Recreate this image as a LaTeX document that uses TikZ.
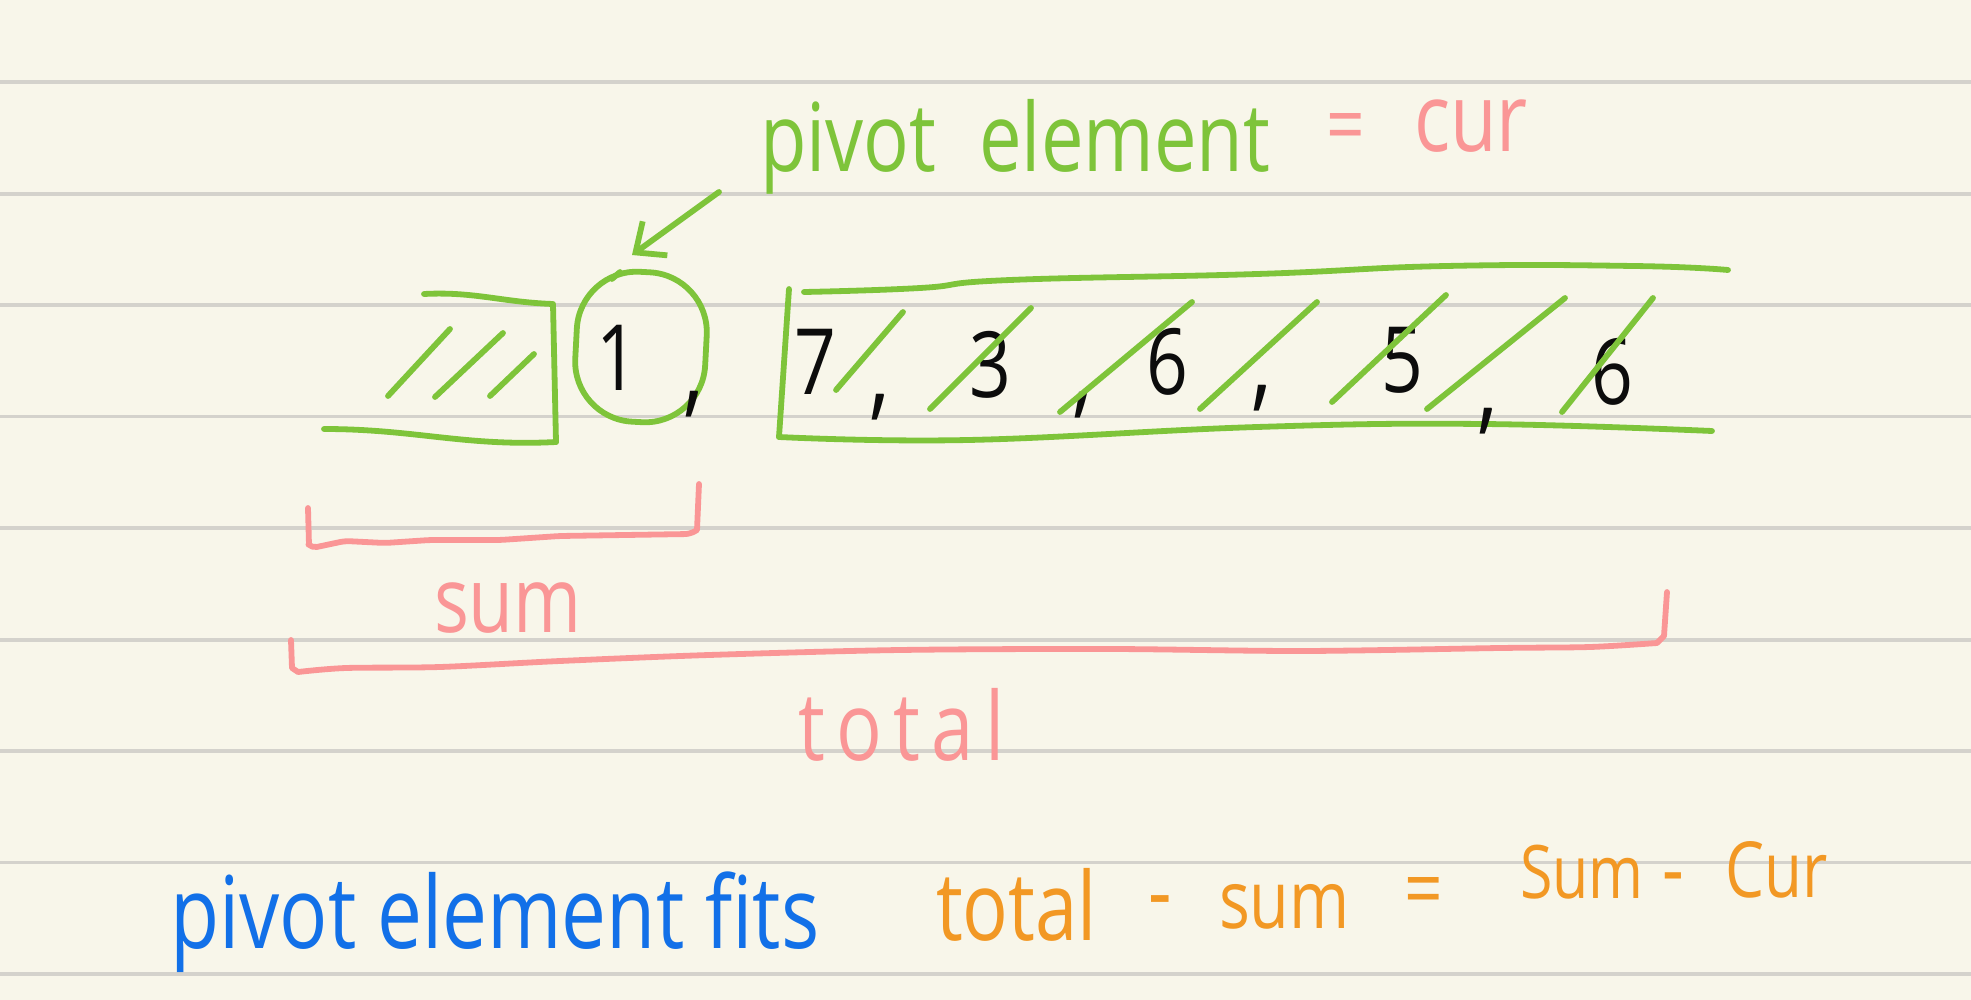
\documentclass[tikz,border=0pt]{standalone}
\usepackage{fontspec}
\usetikzlibrary{arrows.meta}
\newfontfamily\hand[FakeStretch=0.8]{Open Sans}
\definecolor{paper}{RGB}{248,246,234}
\definecolor{rulegray}{RGB}{212,210,204}
\definecolor{hgreen}{RGB}{126,196,58}
\definecolor{hpink}{RGB}{250,150,150}
\definecolor{hblue}{RGB}{18,112,232}
\definecolor{horange}{RGB}{242,152,36}
\definecolor{hink}{RGB}{12,12,12}
\begin{document}
\begin{tikzpicture}[x=0.01cm,y=-0.01cm,line cap=round,line join=round,
  pen/.style={line width=0.058cm},
  gpen/.style={pen,draw=hgreen},
  ppen/.style={pen,draw=hpink},
  txt/.style={inner sep=0,outer sep=0,anchor=base west},
  ctxt/.style={inner sep=0,outer sep=0,anchor=center},
  fs/.style={font=\hand\fontsize{#1}{#1}\selectfont},
  digit/.style={ctxt,text=hink,fs=26},
  comma/.style={ctxt,text=hink,fs=30}]
\useasboundingbox (0,0) rectangle (1971,1000);
\fill[paper] (0,0) rectangle (1971,1000);
\foreach \y in {82,194,305,416.5,528,640,751,862.5,974}
  \draw[rulegray,line width=0.035cm,line cap=butt] (0,\y) -- (1971,\y);

% heading
\node[txt,text=hgreen,fs=27] (pivot) at (760,172) {pivot\hspace{0.45em}element};
\node[ctxt,text=hpink,fs=24] (eq1) at (1346,134) {=};
\node[txt,text=hpink,fs=27] (cur) at (1414,151) {cur};

% arrow
\coordinate (aS) at (719,192);
\coordinate (aE) at (632,255);
\draw[gpen,-{Straight Barb[length=0.24cm,width=0.42cm,line width=0.058cm]}] (aS) -- (aE);

% left hatched box
\draw[gpen] (424,294) to[out=3,in=178] (553,304) -- (556,442);
\draw[gpen] (324,429) to[out=0,in=183] (556,442);
\draw[gpen] (388,396) -- (450,329);
\draw[gpen] (435,397) -- (503,333);
\draw[gpen] (490,396) -- (534,354);

% circled pivot
\node[gpen,draw,rounded corners=0.6cm,minimum width=1.3cm,minimum height=1.5cm,inner sep=0,rotate=-3] (circ) at (641,347) {};
\draw[gpen] (612,279) -- (620,272);
\node[digit] (d1) at (617,358) {1};
\node[comma] (c1) at (694,404) {,};

% right box
\draw[gpen] (789,289) -- (779,437);
\draw[gpen] plot[smooth,tension=0.7] coordinates {(779,437)(968,440)(1257,427)(1483,424)(1712,431)};
\draw[gpen] plot[smooth,tension=0.8] coordinates {(804,292)(920,288)(1010,280)(1257,274)(1446,266)(1634,266)(1728,270)};

% numbers
\node[digit] (d7) at (815,362) {7};
\node[comma] (c2) at (880,407) {,};
\node[digit] (d3) at (990,365) {3};
\node[comma] (c3) at (1083,405) {,};
\node[digit] (d6a) at (1167,362) {6};
\node[comma] (c4) at (1262,398) {,};
\node[digit] (d5) at (1402,360) {5};
\node[comma] (c5) at (1488,421) {,};
\node[digit] (d6b) at (1612,372) {6};

% strike-through slashes
\draw[gpen] (836,390) -- (903,312);
\draw[gpen] (930,409) -- (1031,308);
\draw[gpen] (1060,412) -- (1192,302);
\draw[gpen] (1200,409) -- (1317,302);
\draw[gpen] (1332,402) -- (1446,295);
\draw[gpen] (1427,409) -- (1565,298);
\draw[gpen] (1562,412) -- (1653,298);

% sum bracket
\draw[ppen] (308,508) -- (309,545) [rounded corners=0.05cm] -- (312,548)
  -- (345,541) -- (385,543) -- (430,540) -- (500,540) -- (560,536) -- (690,534) [sharp corners] -- (697,530) -- (699,484);
\node[txt,text=hpink,fs=26] (sum) at (434,632) {sum};

% total bracket
\draw[ppen] (291,640) -- (292,668) -- (298,672)
  -- plot[smooth,tension=0.5] coordinates {(298,672)(346,668)(440,667)(560,661)(709,655)(900,650)(1111,649)(1303,651)(1500,648)(1590,647)(1657,643)} -- (1664,636) -- (1667,592);
\node[txt,text=hpink,fs=27] (total) at (798,760) {t\hspace{0.12em}o\hspace{0.12em}t\hspace{0.12em}a\hspace{0.12em}l};

% bottom line
\node[txt,text=hblue,fs=28.5] (fits) at (170,948) {pivot element fits};
\node[txt,text=horange,fs=27] (o1) at (936,940) {total};
\node[ctxt,text=horange,fs=26] (o2) at (1160,910) {-};
\node[txt,text=horange,fs=23] (o3) at (1219,928) {sum};
\node[ctxt,text=horange,fs=24] (o4) at (1424,898) {=};
\node[txt,text=horange,fs=21] (o5) at (1520,898) {Sum};
\node[ctxt,text=horange,fs=24] (o6) at (1673,886) {-};
\node[txt,text=horange,fs=22] (o7) at (1725,897) {Cur};
\end{tikzpicture}
\end{document}
